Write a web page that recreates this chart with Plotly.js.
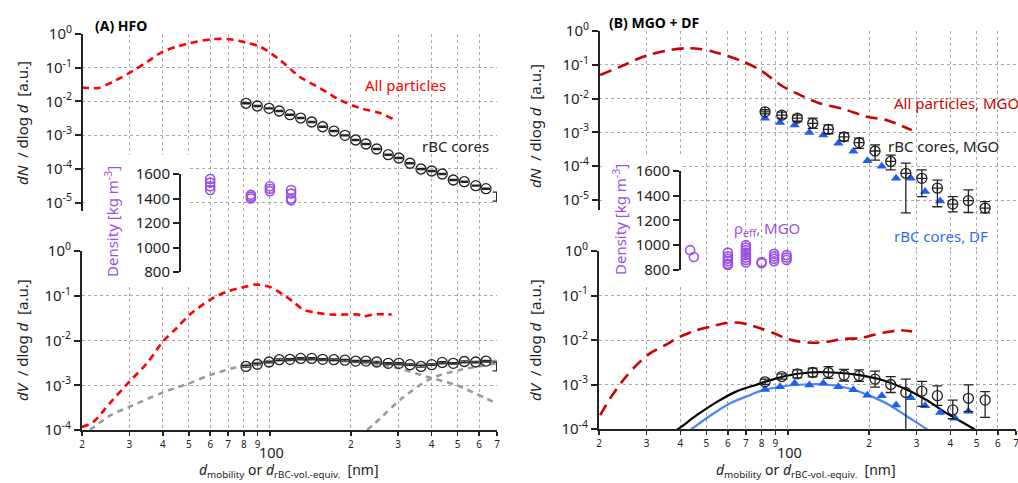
<!DOCTYPE html>
<html>
<head>
<meta charset="utf-8">
<script src="https://cdn.plot.ly/plotly-3.0.1.min.js"></script>
<style>html,body{margin:0;padding:0;background:#fff;}#chart{width:1018px;height:483px;}</style>
</head>
<body>
<div id="chart"></div>
<script>
// ---------------- DATA ----------------
// Panel A (HFO)
const aAllN_x = [20, 23, 26, 31, 35, 40, 45, 50, 61, 71, 82, 92, 109, 129, 154, 182, 217, 257, 287];
const aAllN   = [0.026, 0.025, 0.038, 0.081, 0.151, 0.30, 0.42, 0.53, 0.70, 0.70, 0.55, 0.42, 0.17, 0.054, 0.0245, 0.011, 0.0063, 0.0045, 0.0030];
const aRbc_x  = [81.5, 89.8, 99.3, 108.4, 118.8, 130.2, 143.1, 157.2, 173.1, 190.3, 208.5, 227.8, 249.7, 275.7, 302.1, 332.1, 364.9, 400, 437.9, 481.3, 528.9, 583.3, 637];
const aRbcN   = [8.79e-3, 7.31e-3, 6.24e-3, 5.19e-3, 4.03e-3, 3.21e-3, 2.45e-3, 1.77e-3, 1.32e-3, 9.86e-4, 7.16e-4, 5.45e-4, 3.87e-4, 2.62e-4, 2.09e-4, 1.46e-4, 9.86e-5, 8.61e-5, 7.02e-5, 4.66e-5, 4.14e-5, 3.16e-5, 2.57e-5];
const aRbcV   = [2.63e-3, 2.95e-3, 3.31e-3, 3.72e-3, 3.80e-3, 3.98e-3, 3.98e-3, 3.80e-3, 3.72e-3, 3.63e-3, 3.47e-3, 3.47e-3, 3.31e-3, 3.09e-3, 3.09e-3, 2.88e-3, 2.63e-3, 2.88e-3, 3.24e-3, 3.09e-3, 3.39e-3, 3.31e-3, 3.47e-3];
const aLast_x = [698];
const aLastN  = [1.56e-5];
const aLastV  = [2.69e-3];
const aAllV_x = [20, 22, 25.4, 30, 34.9, 40, 45, 50.4, 59.9, 69.9, 82.2, 88, 100, 112, 122, 133, 149, 167, 190, 213, 222.5, 242, 272, 284];
const aAllV   = [1.17e-4, 1.5e-4, 4.0e-4, 1.2e-3, 3.1e-3, 9.5e-3, 0.019, 0.038, 0.081, 0.126, 0.162, 0.178, 0.158, 0.106, 0.074, 0.049, 0.0417, 0.038, 0.038, 0.038, 0.0347, 0.038, 0.0389, 0.038];
const aMode1_x = [21.4, 25.4, 30, 40, 50, 60, 82, 100, 130, 170, 230, 300, 383, 495, 698];
const aMode1V  = [1.0e-4, 2.1e-4, 3.3e-4, 6.9e-4, 1.1e-3, 1.7e-3, 2.9e-3, 3.4e-3, 3.7e-3, 3.6e-3, 3.1e-3, 2.4e-3, 1.55e-3, 1.0e-3, 3.9e-4];
const aMode2_x = [230, 257, 305, 400, 509, 700];
const aMode2V  = [1.0e-4, 1.8e-4, 4.7e-4, 1.45e-3, 2.19e-3, 3.09e-3];
const aSum_x   = [82, 100, 130, 170, 230, 300, 383, 495, 600, 698];
const aSumV    = [2.9e-3, 3.4e-3, 3.7e-3, 3.65e-3, 3.2e-3, 2.87e-3, 2.9e-3, 3.15e-3, 3.3e-3, 3.5e-3];
const rhoA_x = [60, 60, 60, 60, 85, 85, 85, 100, 100, 100, 120, 120, 120, 120];
const rhoA   = [1560, 1530, 1500, 1470, 1430, 1415, 1400, 1500, 1480, 1460, 1470, 1440, 1400, 1385];

// Panel B (MGO + DF)
const bAllN_x = [20.2, 23.9, 29.2, 35.6, 42.2, 47.3, 53.0, 61.1, 68.5, 79.0, 96.3, 114.2, 131.7, 160.7, 196.1, 232.7, 287.8];
const bAllN   = [0.050, 0.087, 0.174, 0.263, 0.309, 0.295, 0.245, 0.174, 0.123, 0.0708, 0.0224, 0.0115, 7.2e-3, 4.9e-3, 2.9e-3, 2.3e-3, 1.17e-3];
const bRbc_x  = [82.4, 95, 108.5, 123.7, 141.4, 161.6, 183.7, 210.5, 240.6, 273.6, 313.6, 358.1, 408.3, 466.4, 538];
const bRbcN    = [4.07e-3, 3.24e-3, 2.63e-3, 1.86e-3, 1.23e-3, 7.41e-4, 5.01e-4, 2.82e-4, 1.38e-4, 6.17e-5, 4.37e-5, 2.24e-5, 7.59e-6, 9.55e-6, 5.75e-6];
const bRbcN_hi = [4.68e-3, 3.98e-3, 3.24e-3, 2.63e-3, 1.66e-3, 9.77e-4, 6.76e-4, 4.27e-4, 2.14e-4, 1.23e-4, 7.76e-5, 3.89e-5, 1.26e-5, 2.0e-5, 8.91e-6];
const bRbcN_lo = [3.55e-3, 2.63e-3, 2.14e-3, 1.32e-3, 9.12e-4, 5.62e-4, 3.39e-4, 1.51e-4, 7.76e-5, 4.17e-6, 1.26e-5, 6.31e-6, 4.47e-6, 4.27e-6, 4.17e-6];
const bDfN_x = [82.4, 93.6, 106.0, 120.2, 135.4, 153.9, 175, 197.1, 222.9, 251.8, 285.5, 322.5, 366.5];
const bDfN   = [2.63e-3, 1.95e-3, 1.66e-3, 1.0e-3, 8.32e-4, 4.79e-4, 2.75e-4, 1.45e-4, 1.0e-4, 4.37e-5, 4.37e-5, 1.78e-5, 9.33e-6];
const bAllV_x = [20.2, 22, 24.9, 28.0, 30.9, 35.3, 39.8, 46.0, 51.9, 59.2, 66.5, 72.3, 81.0, 89.3, 98.0, 111, 124, 139.1, 160.4, 184.7, 206.8, 239.5, 261.6, 288.6];
const bAllV   = [2.04e-4, 4.9e-4, 1.38e-3, 3.02e-3, 5.01e-3, 7.76e-3, 0.0117, 0.0166, 0.020, 0.024, 0.0245, 0.0219, 0.0174, 0.0141, 0.011, 9.1e-3, 8.7e-3, 9.1e-3, 0.0105, 0.011, 0.0129, 0.0155, 0.0166, 0.0155];
const bRbcV    = [1.15e-3, 1.51e-3, 1.74e-3, 1.86e-3, 1.86e-3, 1.62e-3, 1.58e-3, 1.32e-3, 1.0e-3, 6.61e-4, 7.08e-4, 5.62e-4, 2.69e-4, 4.90e-4, 4.47e-4];
const bRbcV_hi = [1.32e-3, 1.74e-3, 2.14e-3, 2.34e-3, 2.51e-3, 2.19e-3, 2.14e-3, 2.0e-3, 1.51e-3, 1.32e-3, 1.17e-3, 9.33e-4, 4.47e-4, 9.77e-4, 6.92e-4];
const bRbcV_lo = [1.0e-3, 1.32e-3, 1.41e-3, 1.48e-3, 1.38e-3, 1.20e-3, 1.17e-3, 8.71e-4, 6.61e-4, 7.9e-5, 3.24e-4, 3.39e-4, 1.70e-4, 2.45e-4, 1.82e-4];
const bDfV_x = [82.4, 93.6, 106.0, 120.2, 135.4, 153.9, 175, 197.1, 222.9, 251.8, 285.5, 322.5, 366.5, 416.4, 466.4];
const bDfV   = [7.76e-4, 8.91e-4, 1.07e-3, 9.77e-4, 1.07e-3, 8.91e-4, 7.59e-4, 5.75e-4, 5.62e-4, 3.47e-4, 5.01e-4, 3.31e-4, 2.34e-4, 1.74e-4, 2.51e-4];
const bFitMGO_x = [36, 39.3, 46.0, 54.7, 64.3, 76.0, 98.1, 120.6, 147.6, 184.7, 226.5, 276.7, 326.3, 387.9, 461.5, 489, 520];
const bFitMGO   = [7.1e-5, 1.0e-4, 2.04e-4, 4.07e-4, 6.92e-4, 9.77e-4, 1.55e-3, 1.86e-3, 1.86e-3, 1.62e-3, 1.23e-3, 7.59e-4, 4.47e-4, 2.24e-4, 1.23e-4, 1.0e-4, 7.1e-5];
const bFitDF_x  = [41, 44.1, 51.9, 61.2, 72.3, 78.9, 93.6, 114.2, 139.1, 169.5, 200.8, 237.9, 276.7, 326.3, 350];
const bFitDF    = [7.1e-5, 1.0e-4, 2.04e-4, 3.80e-4, 5.75e-4, 7.08e-4, 8.91e-4, 1.0e-3, 1.0e-3, 8.13e-4, 5.62e-4, 3.47e-4, 1.91e-4, 1.0e-4, 7.1e-5];
const rhoB_x = [43.5, 44.9, 60, 60, 60, 60, 60, 60, 70, 70, 70, 70, 70, 70, 70, 70, 80, 80, 89, 89, 89, 89, 99, 99, 99];
const rhoB   = [960, 905, 940, 910, 890, 870, 850, 840, 1000, 980, 960, 940, 920, 900, 880, 860, 865, 855, 930, 910, 890, 870, 920, 900, 880];

// Axis tick labels
const xTickVals = [20, 30, 40, 50, 60, 70, 80, 90, 100, 200, 300, 400, 500, 600, 700];
const xTickText = ['2', '3', '4', '5', '6', '7', '8', '9', '', '2', '3', '4', '5', '6', '7'];
const yTopVals = [1, 0.1, 0.01, 1e-3, 1e-4, 1e-5];
const yTopText = ['10<sup>0</sup>', '10<sup>-1</sup>', '10<sup>-2</sup>', '10<sup>-3</sup>', '10<sup>-4</sup>', '10<sup>-5</sup>'];
const yBotVals = [1, 0.1, 0.01, 1e-3, 1e-4];
const yBotText = ['10<sup>0</sup>', '10<sup>-1</sup>', '10<sup>-2</sup>', '10<sup>-3</sup>', '10<sup>-4</sup>'];
const rhoTicks = [800, 1000, 1200, 1400, 1600];

// ---------------- LAYOUT HELPERS ----------------
const W = 1018, H = 483;
const FONT = 'Noto Sans, Open Sans, sans-serif';
const fx = p => p / W;
const fy = p => 1 - p / H;
const INK = '#222';
const PURPLE = '#9b4fe6';
const RED = '#ff0000';
const DRED = '#cc0000';
const GRAY = '#9a9a9a';
const BLUE = '#1f5ef5';
const LBLUE = '#4a86f8';
const XR = [Math.log10(20), Math.log10(700)];

function xAxis(domain, showLabels) {
  return {
    type: 'log', range: XR, domain: domain,
    tickmode: 'array', tickvals: xTickVals, ticktext: xTickText,
    showticklabels: showLabels, ticks: showLabels ? 'outside' : '',
    ticklen: 4, tickwidth: 1.5, tickcolor: INK, ticklabeloverflow: 'allow',
    tickfont: {family: FONT, size: 10, color: INK},
    showline: showLabels, linewidth: 2, linecolor: INK,
    showgrid: true, gridcolor: '#a8a8a8', griddash: 'dot', gridwidth: 1,
    zeroline: false, fixedrange: true
  };
}
function yAxis(domain, range, vals, text, anchor, showline) {
  return {
    type: 'log', range: range, domain: domain, anchor: anchor,
    tickmode: 'array', tickvals: vals, ticktext: text,
    ticks: 'outside', ticklen: 6, tickwidth: 2, tickcolor: INK,
    tickfont: {family: FONT, size: 15, color: INK},
    showline: showline, linewidth: 2, linecolor: INK,
    showgrid: true, gridcolor: '#a8a8a8', griddash: 'dot', gridwidth: 1,
    zeroline: false, fixedrange: true
  };
}
function hidden(domain, range, type) {
  return {domain: domain, range: range, type: type || 'linear', visible: false, fixedrange: true};
}

const LX = [fx(82), fx(497)];
const RX = [fx(599), fx(1016)];

// ---------------- TRACES ----------------
const traces = [];
function line(x, y, xa, ya, color, dash, width, shape) {
  traces.push({x: x, y: y, xaxis: xa, yaxis: ya, mode: 'lines', hoverinfo: 'skip',
    line: {color: color, dash: dash, width: width, shape: shape || 'spline', smoothing: 0.8}});
}
// Panel A top
line(aAllN_x, aAllN, 'x', 'y', RED, '7px,5px', 2.6);
traces.push({x: aRbc_x, y: aRbcN, xaxis: 'x', yaxis: 'y', mode: 'markers',
  marker: {symbol: 'circle-open', size: 10, color: INK, line: {width: 1.3, color: INK}},
  error_y: {type: 'percent', value: 4, width: 4, thickness: 1.2, color: INK}});
traces.push({x: aLast_x, y: aLastN, xaxis: 'x', yaxis: 'y', mode: 'markers',
  marker: {size: 1, color: 'rgba(0,0,0,0)'},
  error_y: {type: 'percent', value: 30, width: 4, thickness: 1.2, color: INK}});
// Panel A bottom
line(aMode1_x, aMode1V, 'x2', 'y2', GRAY, '6px,5px', 2.6);
line(aMode2_x, aMode2V, 'x2', 'y2', GRAY, '6px,5px', 2.6);
line(aSum_x, aSumV, 'x2', 'y2', GRAY, 'solid', 2.6);
line(aAllV_x, aAllV, 'x2', 'y2', RED, '7px,5px', 2.6);
traces.push({x: aRbc_x, y: aRbcV, xaxis: 'x2', yaxis: 'y2', mode: 'markers',
  marker: {symbol: 'circle-open', size: 10, color: INK, line: {width: 1.3, color: INK}},
  error_y: {type: 'percent', value: 4, width: 4, thickness: 1.2, color: INK}});
traces.push({x: aLast_x, y: aLastV, xaxis: 'x2', yaxis: 'y2', mode: 'markers',
  marker: {size: 1, color: 'rgba(0,0,0,0)'},
  error_y: {type: 'percent', value: 22, width: 4, thickness: 1.2, color: INK}});
// Panel B top
line(bAllN_x, bAllN, 'x3', 'y3', DRED, '12px,7px', 2.6);
traces.push({x: bDfN_x, y: bDfN, xaxis: 'x3', yaxis: 'y3', mode: 'markers',
  marker: {symbol: 'triangle-up', size: 9, color: BLUE}});
traces.push({x: bRbc_x, y: bRbcN, xaxis: 'x3', yaxis: 'y3', mode: 'markers',
  marker: {symbol: 'circle-cross-open', size: 10, color: INK, line: {width: 1.3, color: INK}},
  error_y: {type: 'data', array: bRbcN_hi.map((v, i) => v - bRbcN[i]),
            arrayminus: bRbcN_lo.map((v, i) => bRbcN[i] - v), width: 5, thickness: 1.3, color: INK}});
// Panel B bottom
line(bAllV_x, bAllV, 'x4', 'y4', DRED, '12px,7px', 2.6);
line(bFitMGO_x, bFitMGO, 'x4', 'y4', '#000', 'solid', 2.2);
line(bFitDF_x, bFitDF, 'x4', 'y4', LBLUE, 'solid', 2.2);
traces.push({x: bDfV_x, y: bDfV, xaxis: 'x4', yaxis: 'y4', mode: 'markers',
  marker: {symbol: 'triangle-up', size: 9, color: BLUE}});
traces.push({x: bRbc_x, y: bRbcV, xaxis: 'x4', yaxis: 'y4', mode: 'markers',
  marker: {symbol: 'circle-open', size: 10, color: INK, line: {width: 1.3, color: INK}},
  error_y: {type: 'data', array: bRbcV_hi.map((v, i) => v - bRbcV[i]),
            arrayminus: bRbcV_lo.map((v, i) => bRbcV[i] - v), width: 5, thickness: 1.3, color: INK}});
// white masks behind the insets' axes
traces.push({x: [0, 1, 1, 0, 0], y: [0, 0, 1, 1, 0], xaxis: 'x5', yaxis: 'y5', mode: 'lines',
  fill: 'toself', fillcolor: '#ffffff', line: {width: 0, color: 'rgba(0,0,0,0)'}, hoverinfo: 'skip'});
// inset A densities
traces.push({x: rhoA_x, y: rhoA, xaxis: 'x6', yaxis: 'y6', mode: 'markers',
  marker: {symbol: 'circle-open', size: 9, color: PURPLE, line: {width: 1.6, color: PURPLE}}});
traces.push({x: [0, 1, 1, 0, 0], y: [0, 0, 1, 1, 0], xaxis: 'x7', yaxis: 'y7', mode: 'lines',
  fill: 'toself', fillcolor: '#ffffff', line: {width: 0, color: 'rgba(0,0,0,0)'}, hoverinfo: 'skip'});
// inset B densities
traces.push({x: rhoB_x, y: rhoB, xaxis: 'x8', yaxis: 'y8', mode: 'markers',
  marker: {symbol: 'circle-open', size: 9, color: PURPLE, line: {width: 1.6, color: PURPLE}}});

function insetY(domain, pos) {
  return {domain: domain, range: [800, 1600], anchor: 'free', position: pos,
    tickmode: 'array', tickvals: rhoTicks, ticks: 'outside', ticklen: 6, tickwidth: 2, tickcolor: INK,
    tickfont: {family: FONT, size: 15, color: INK}, showline: true, linewidth: 2, linecolor: INK,
    showgrid: false, zeroline: false, fixedrange: true};
}

// ---------------- ANNOTATIONS ----------------
function txt(text, x, y, opts) {
  return Object.assign({text: text, xref: 'paper', yref: 'paper', x: fx(x), y: fy(y),
    showarrow: false, xanchor: 'center', yanchor: 'middle',
    font: {family: FONT, size: 15, color: INK}}, opts || {});
}
const NB = '\u00a0';
const yTitleN = '<i>dN</i>' + NB + NB + '/ dlog <i>d</i>' + NB + NB + '[a.u.]';
const yTitleV = '<i>dV</i>' + NB + NB + '/ dlog <i>d</i>' + NB + NB + '[a.u.]';
const xTitle = '<i>d</i><sub>mobility</sub> or <i>d</i><sub>rBC-vol.-equiv.</sub>' + NB + NB + '[nm]';
const annotations = [
  txt('<b>(A) HFO</b>', 93, 25, {xanchor: 'left', font: {family: FONT, size: 14, color: '#000'}}),
  txt('<b>(B) MGO + DF</b>', 607, 22, {xanchor: 'left', font: {family: FONT, size: 14, color: '#000'}}),
  txt('All particles', 405, 85, {font: {family: FONT, size: 15, color: RED}}),
  txt('rBC cores', 455, 146),
  txt('All particles, MGO', 956, 103, {font: {family: FONT, size: 15, color: DRED}}),
  txt('rBC cores, MGO', 943, 146),
  txt('rBC cores, DF', 941, 236, {font: {family: FONT, size: 15, color: '#2a6df4'}}),
  txt('ρ<sub>eff</sub>, MGO', 767, 229, {font: {family: FONT, size: 15, color: PURPLE}}),
  txt(yTitleN, 22, 123, {textangle: -90}),
  txt(yTitleV, 22, 340, {textangle: -90}),
  txt(yTitleN, 535, 126, {textangle: -90}),
  txt(yTitleV, 535, 340, {textangle: -90}),
  txt('Density [kg m<sup>-3</sup>]', 111, 222, {textangle: -90, font: {family: FONT, size: 15, color: PURPLE}}),
  txt('Density [kg m<sup>-3</sup>]', 619, 220, {textangle: -90, font: {family: FONT, size: 15, color: PURPLE}}),
  txt(xTitle, 289, 483, {yanchor: 'bottom', font: {family: FONT, size: 14, color: INK}}),
  txt(xTitle, 806, 483, {yanchor: 'bottom', font: {family: FONT, size: 14, color: INK}}),
  {text: '100', xref: 'x2', yref: 'paper', x: 2.005, y: fy(452), showarrow: false, xanchor: 'center', yanchor: 'middle', font: {family: FONT, size: 14.5, color: INK}},
  {text: '100', xref: 'x4', yref: 'paper', x: 2.005, y: fy(452), showarrow: false, xanchor: 'center', yanchor: 'middle', font: {family: FONT, size: 14.5, color: INK}}
];

const shapes = [
  {type: 'line', xref: 'paper', yref: 'paper', x0: fx(82), x1: fx(82), y0: fy(34), y1: fy(211), line: {color: INK, width: 2}},
  {type: 'line', xref: 'paper', yref: 'paper', x0: fx(599), x1: fx(599), y0: fy(31), y1: fy(210), line: {color: INK, width: 2}},
  {type: 'line', xref: 'x2', yref: 'paper', x0: 2, x1: 2, y0: fy(430), y1: fy(437), line: {color: INK, width: 1.5}},
  {type: 'line', xref: 'x4', yref: 'paper', x0: 2, x1: 2, y0: fy(429), y1: fy(436), line: {color: INK, width: 1.5}}
];

const layout = {
  width: W, height: H, margin: {l: 0, r: 0, t: 0, b: 0},
  paper_bgcolor: '#ffffff', plot_bgcolor: 'rgba(0,0,0,0)',
  showlegend: false, font: {family: FONT, color: INK},
  xaxis:  xAxis(LX, false),
  yaxis:  yAxis([fy(251), fy(34)], [-(251 - 34) / 33.7, 0], yTopVals, yTopText, 'x', false),
  xaxis2: Object.assign(xAxis(LX, true), {anchor: 'y2'}),
  yaxis2: yAxis([fy(430), fy(251)], [-4, 0], yBotVals, yBotText, 'x2', true),
  xaxis3: Object.assign(xAxis(RX, false), {anchor: 'y3'}),
  yaxis3: yAxis([fy(251), fy(31)], [-(251 - 31) / 33.8, 0], yTopVals, yTopText, 'x3', false),
  xaxis4: Object.assign(xAxis(RX, true), {anchor: 'y4'}),
  yaxis4: yAxis([fy(429), fy(251)], [-4, 0], yBotVals, yBotText, 'x4', true),
  xaxis5: hidden([fx(84.5), fx(189)], [0, 1]),
  yaxis5: Object.assign(hidden([fy(285), fy(155)], [0, 1]), {anchor: 'x5'}),
  xaxis6: hidden(LX, XR, 'log'),
  yaxis6: insetY([fy(272), fy(174)], fx(180)),
  xaxis7: hidden([fx(601.5), fx(682)], [0, 1]),
  yaxis7: Object.assign(hidden([fy(285), fy(155)], [0, 1]), {anchor: 'x7'}),
  xaxis8: hidden(RX, XR, 'log'),
  yaxis8: insetY([fy(270), fy(170.7)], fx(680)),
  annotations: annotations,
  shapes: shapes
};
layout.xaxis5.anchor = 'y5';
layout.xaxis6.anchor = 'y6';
layout.xaxis7.anchor = 'y7';
layout.xaxis8.anchor = 'y8';

Plotly.newPlot('chart', traces.map(t => Object.assign({showlegend: false}, t)), layout, {displayModeBar: false, staticPlot: true});
</script>
</body>
</html>
